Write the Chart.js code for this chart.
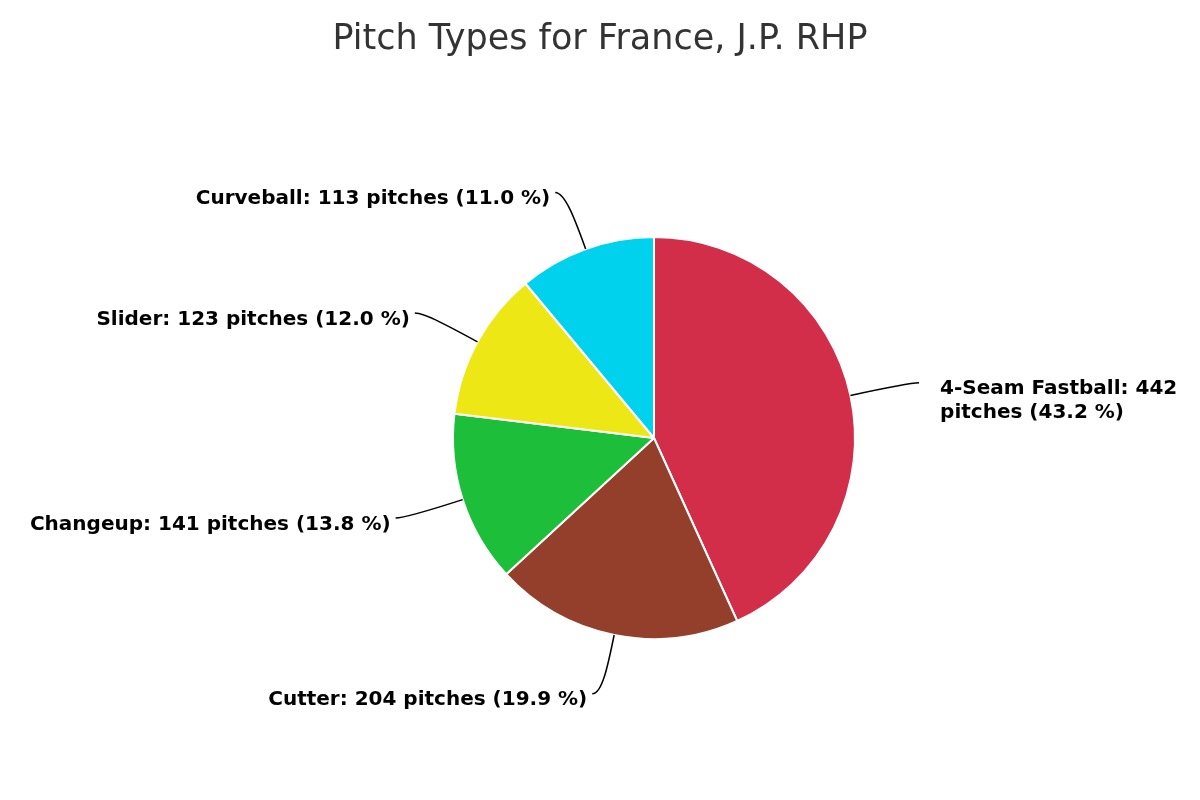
<!DOCTYPE html>
<html>
<head>
<meta charset="utf-8">
<script src="https://cdn.jsdelivr.net/npm/chart.js@4.4.0/dist/chart.umd.min.js"></script>
<style>
  html, body { margin: 0; padding: 0; background: #ffffff; }
  #wrap { width: 1200px; height: 800px; position: relative; }
</style>
</head>
<body>
<div id="wrap"><canvas id="c" width="1200" height="800"></canvas></div>
<script>
const chartTitle = 'Pitch Types for France, J.P. RHP';
const pitchTypes = ['4-Seam Fastball', 'Cutter', 'Changeup', 'Slider', 'Curveball'];
const pitchCounts = [442, 204, 141, 123, 113];
const pitchColors = ['#D22D49', '#933F2C', '#1DBE3A', '#EEE716', '#00D1ED'];

const totalPitches = pitchCounts.reduce((a, b) => a + b, 0);

const titlePlugin = {
  id: 'customTitle',
  afterDraw(chart) {
    const ctx = chart.ctx;
    ctx.save();
    ctx.font = '35px "DejaVu Sans", sans-serif';
    ctx.fillStyle = '#333333';
    ctx.textAlign = 'center';
    ctx.textBaseline = 'alphabetic';
    ctx.fillText(chartTitle, chart.width / 2, 49);
    ctx.restore();
  }
};

const labelPlugin = {
  id: 'pieLabels',
  afterDatasetsDraw(chart) {
    const ctx = chart.ctx;
    const meta = chart.getDatasetMeta(0);
    const fontSize = 20;
    const lineH = 24;
    const labelDist = 60;
    const hook = 10;
    ctx.save();
    ctx.font = 'bold ' + fontSize + 'px "DejaVu Sans", sans-serif';
    ctx.fillStyle = '#000000';
    ctx.strokeStyle = '#000000';
    ctx.lineWidth = 1.5;
    meta.data.forEach((arc, i) => {
      const p = arc.getProps(['x', 'y', 'startAngle', 'endAngle', 'outerRadius'], true);
      const mid = (p.startAngle + p.endAngle) / 2;
      const c = Math.cos(mid), s = Math.sin(mid);
      const R = p.outerRadius;
      const right = c >= 0;
      const dir = right ? 1 : -1;
      const touch = { x: p.x + c * R, y: p.y + s * R };
      const corner = { x: p.x + c * (R + labelDist), y: p.y + s * (R + labelDist) };
      const mid2 = { x: p.x + c * (R + labelDist * 0.5), y: p.y + s * (R + labelDist * 0.5) };
      const end = { x: corner.x + dir * hook, y: corner.y };
      ctx.beginPath();
      ctx.moveTo(end.x, end.y);
      ctx.bezierCurveTo(corner.x, corner.y, mid2.x, mid2.y, touch.x, touch.y);
      ctx.stroke();

      const pct = (pitchCounts[i] / totalPitches * 100).toFixed(1);
      const text = pitchTypes[i] + ': ' + pitchCounts[i] + ' pitches (' + pct + ' %)';
      ctx.textBaseline = 'alphabetic';
      const baseY = end.y + 11.5;
      if (right) {
        const tx = end.x + 21;
        const maxW = chart.width - tx - 6;
        const words = text.split(' ');
        const lines = [];
        let cur = '';
        words.forEach(w => {
          const tt = cur ? cur + ' ' + w : w;
          if (ctx.measureText(tt).width > maxW && cur) { lines.push(cur); cur = w; }
          else cur = tt;
        });
        if (cur) lines.push(cur);
        ctx.textAlign = 'left';
        lines.forEach((ln, k) => ctx.fillText(ln, tx, baseY + k * lineH));
      } else {
        ctx.textAlign = 'right';
        ctx.fillText(text, end.x - 5, baseY);
      }
    });
    ctx.restore();
  }
};

new Chart(document.getElementById('c'), {
  type: 'pie',
  data: {
    labels: pitchTypes,
    datasets: [{
      data: pitchCounts,
      backgroundColor: pitchColors,
      borderColor: '#ffffff',
      borderWidth: 2,
      hoverOffset: 0,
      offset: 0
    }]
  },
  options: {
    responsive: false,
    animation: false,
    devicePixelRatio: 1,
    layout: { padding: { top: 236, bottom: 160, left: 208, right: 100 } },
    plugins: {
      legend: { display: false },
      tooltip: { enabled: false },
      title: { display: false }
    }
  },
  plugins: [titlePlugin, labelPlugin]
});
</script>
</body>
</html>
